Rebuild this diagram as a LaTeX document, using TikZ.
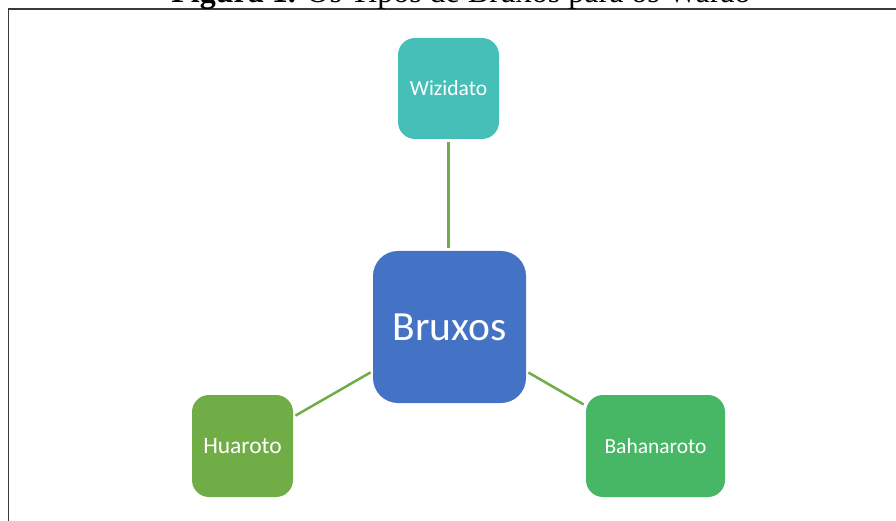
\documentclass[tikz,border=0pt]{standalone}
\usepackage{fontspec}
\setmainfont{Carlito}
\newfontfamily\titlefont{Liberation Serif}
\definecolor{tealbox}{HTML}{46BFB9}
\definecolor{bluebox}{HTML}{4472C4}
\definecolor{greenbox}{HTML}{70AD47}
\definecolor{greenbox2}{HTML}{47B665}
\definecolor{framegray}{HTML}{3A3A3A}
\begin{document}
\begin{tikzpicture}[x=1pt,y=-1pt,
  box/.style={rectangle, rounded corners=17pt, inner sep=0pt, text=white, draw=none},
  link/.style={draw=greenbox, line width=2.5pt, shorten <=2.5pt, shorten >=2.5pt}]
\useasboundingbox (0,0) rectangle (896,521);
\draw[framegray, line width=1.2pt] (8.5,521) -- (8.5,9) -- (896,9);
\node[anchor=base, inner sep=0pt, font=\titlefont\fontsize{32}{32}\selectfont] (title) at (461,3) {\textbf{Figura 1.} Os Tipos de Bruxos para os Warao};
\node[box, fill=bluebox, rounded corners=25pt, minimum width=153pt, minimum height=152pt, font=\fontsize{41.5}{41.5}\selectfont] (bruxos) at (449.5,327) {Bruxos};
\node[box, fill=tealbox, minimum width=101pt, minimum height=101pt, font=\fontsize{21.5}{21.5}\selectfont] (wiz) at (448.5,88.5) {Wizidato};
\node[box, fill=greenbox, minimum width=101pt, minimum height=102pt, font=\fontsize{23.5}{23.5}\selectfont] (hua) at (242.5,446) {Huaroto};
\node[box, fill=greenbox2, minimum width=139pt, minimum height=102pt, font=\fontsize{21.5}{21.5}\selectfont] (bah) at (655.5,446) {Bahanaroto};
\draw[link] (wiz.south) -- (wiz.south |- bruxos.north);
\draw[link] (bruxos) -- (hua);
\draw[link] (bruxos) -- (bah);
\end{tikzpicture}
\end{document}
